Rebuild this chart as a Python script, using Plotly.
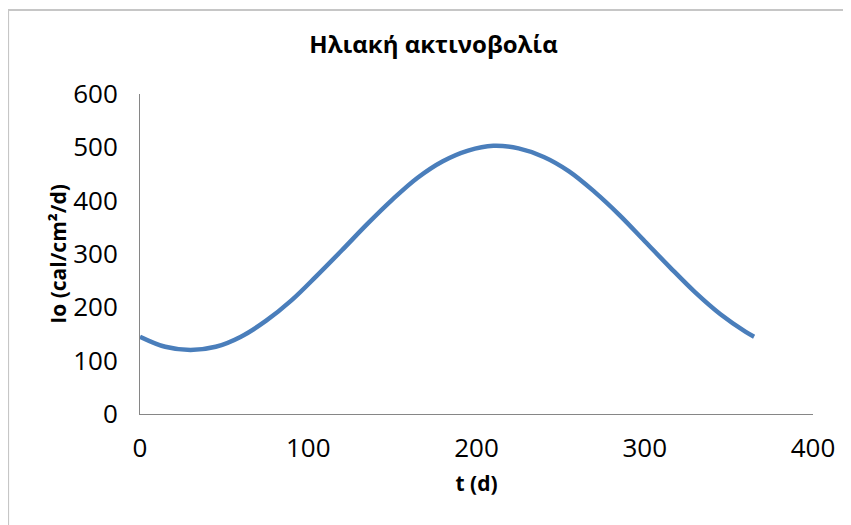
import plotly.graph_objects as go

# Day of year (d)
t_days = [0, 15, 30, 45, 60, 75, 90, 105, 120, 135, 150, 165, 180,
          195, 210, 225, 240, 255, 270, 285, 300, 315, 330, 345, 360, 365]
# Solar radiation Io (cal/cm2/d)
io_values = [145, 126, 120, 126, 145, 175, 213, 259, 307, 356, 402, 443, 474,
             494, 503, 498, 482, 455, 417, 373, 324, 275, 228, 187, 154, 145]

x_ticks = [0, 100, 200, 300, 400]
y_ticks = [0, 100, 200, 300, 400, 500, 600]

title_text = "Ηλιακή ακτινοβολία"
x_title = "t (d)"
y_title = "Io (cal/cm²/d)"

FONT = "Open Sans"

fig = go.Figure()
fig.add_trace(go.Scatter(
    x=t_days, y=io_values, mode="lines",
    line=dict(color="#4a7ebb", width=4.5, shape="spline", smoothing=1.0),
    showlegend=False, hoverinfo="x+y",
))

fig.update_layout(
    width=851, height=525,
    paper_bgcolor="white", plot_bgcolor="white",
    margin=dict(l=132, r=46, t=86, b=119),
    title=dict(text="<b>" + title_text + "</b>", x=0.5, xanchor="center",
               y=0.9295, yanchor="middle",
               font=dict(family=FONT, size=24, color="#000000")),
    font=dict(family=FONT, color="#000000"),
    xaxis=dict(
        range=[0, 400], tickvals=x_ticks, ticktext=[str(v) for v in x_ticks],
        showgrid=False, zeroline=False, showline=True, linecolor="#868686",
        linewidth=1, ticks="", ticklabelstandoff=11,
        tickfont=dict(family=FONT, size=26, color="#000000"),
        title=dict(text="<b>" + x_title + "</b>", standoff=12,
                   font=dict(family=FONT, size=21, color="#000000")),
    ),
    yaxis=dict(
        range=[0, 600], tickvals=y_ticks, ticktext=[str(v) for v in y_ticks],
        showgrid=False, zeroline=False, showline=True, linecolor="#868686",
        linewidth=1, ticks="", ticklabelstandoff=16,
        tickfont=dict(family=FONT, size=26, color="#000000"),
        title=dict(text="<b>" + y_title + "</b>", standoff=0,
                   font=dict(family=FONT, size=21, color="#000000")),
    ),
    shapes=[dict(type="rect", xref="paper", yref="paper",
                 x0=-0.196, x1=1.25, y0=-0.6, y1=1.2625,
                 line=dict(color="#c6c6c6", width=2), fillcolor="rgba(0,0,0,0)",
                 layer="below")],
)

fig.write_html("out.html")
